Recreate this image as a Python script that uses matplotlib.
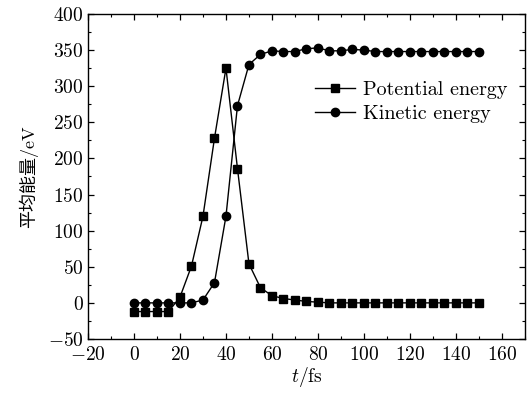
import matplotlib
matplotlib.use("Agg")
import matplotlib.pyplot as plt
from matplotlib.ticker import MultipleLocator

plt.rcParams['font.family'] = ['cmr10', 'Noto Sans CJK SC', 'DejaVu Serif']
plt.rcParams['mathtext.fontset'] = 'cm'
plt.rcParams['axes.formatter.use_mathtext'] = True

t = list(range(0, 155, 5))
potential = [-12, -12, -12, -12, 8, 51, 120, 228, 325, 186, 54, 21, 10, 6, 4, 2, 1,
             0, 0, 0, 0, 0, 0, 0, 0, 0, 0, 0, 0, 0, 0]
kinetic = [0, 0, 0, 0, 0, 0, 4, 28, 120, 273, 330, 344, 349, 348, 348, 352, 353,
           349, 349, 351, 350, 348, 348, 348, 348, 348, 348, 348, 348, 348, 348]

fig = plt.figure(figsize=(5.27, 3.94), dpi=100)
ax = fig.add_axes([0.167, 0.1396, 0.829, 0.8249])

ax.plot(t, potential, color='black', marker='s', markersize=5.5, linewidth=1.0,
        label='Potential energy')
ax.plot(t, kinetic, color='black', marker='o', markersize=6, linewidth=1.0,
        label='Kinetic energy')

ax.set_xlim(-20, 170)
ax.set_ylim(-50, 400)
ax.xaxis.set_major_locator(MultipleLocator(20))
ax.xaxis.set_minor_locator(MultipleLocator(10))
ax.yaxis.set_major_locator(MultipleLocator(50))
ax.yaxis.set_minor_locator(MultipleLocator(25))
ax.tick_params(which='both', direction='in', top=True, right=True, labelsize=14)
ax.tick_params(which='major', length=4.5, width=0.9, pad=3)
ax.tick_params(axis='x', which='major', pad=5)
ax.tick_params(which='minor', length=2.5, width=0.8)
for s in ax.spines.values():
    s.set_linewidth(1.0)

ax.set_xlabel(r'$t$/fs', fontsize=14, labelpad=1)
ax.set_ylabel('平均能量/eV', fontsize=13, family=['cmr10', 'Noto Sans CJK SC'],
              labelpad=7)

ax.legend(loc='upper right', bbox_to_anchor=(0.961, 0.795), frameon=False,
          fontsize=14.5, handlelength=2.0, handletextpad=0.4, labelspacing=0.3,
          borderpad=0, borderaxespad=0)

fig.savefig('out.png', dpi=100)
